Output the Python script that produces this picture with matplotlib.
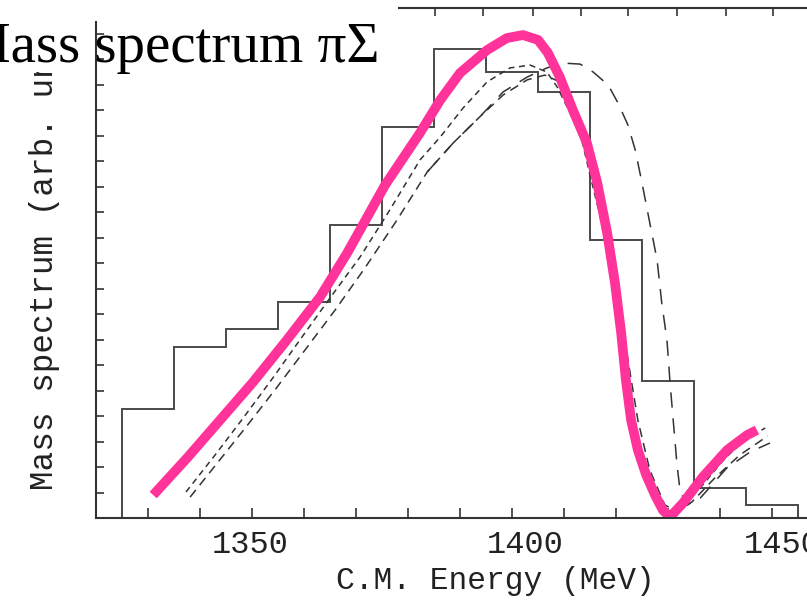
import matplotlib
matplotlib.use("Agg")
import matplotlib.pyplot as plt
from matplotlib.patches import Rectangle

# histogram (10 MeV bins)
bin_edges = [1325, 1335, 1345, 1355, 1365, 1375, 1385, 1395, 1405, 1415, 1425, 1435, 1445, 1455]
hist_counts = [4.27, 6.71, 7.41, 8.47, 11.49, 15.33, 18.39, 17.49, 16.71, 10.90, 5.37, 1.18, 0.51]

# thick pink fit
pink_e = [1331.0, 1337.5, 1343.9, 1350.2, 1356.7, 1363.1, 1368.3, 1375.6, 1382.3, 1386.2,
          1390.0, 1395.2, 1399.0, 1402.1, 1405.0, 1406.9, 1409.2, 1411.7, 1414.4, 1416.4,
          1418.3, 1419.8, 1421.0, 1421.9, 1422.9, 1424.2, 1425.8, 1427.5, 1429.0, 1430.4,
          1432.9, 1436.7, 1441.4, 1445.2, 1447.1]
pink_y = [0.90, 2.35, 3.85, 5.33, 6.98, 8.67, 10.39, 13.06, 15.10, 16.39,
          17.45, 18.35, 18.82, 18.94, 18.75, 18.24, 17.29, 16.00, 14.71, 13.14,
          11.18, 9.22, 7.25, 5.41, 3.84, 2.67, 1.69, 0.90, 0.31, 0.04,
          0.59, 1.61, 2.67, 3.25, 3.45]

# dashed model curves
d1_e = [1337.3, 1342.9, 1348.3, 1354.0, 1359.2, 1365.0, 1370.8, 1376.5, 1382.3, 1386.2,
        1390.6, 1395.2, 1399.6, 1403.5, 1406.7, 1408.7, 1410.6, 1413.1, 1415.0, 1416.9,
        1418.8, 1420.8, 1422.7, 1425.0, 1427.5, 1430.0, 1432.3, 1436.2, 1441.0, 1444.8,
        1448.7]
d1_y = [1.02, 2.47, 3.92, 5.49, 6.98, 8.63, 10.24, 12.08, 14.04, 14.94,
        16.08, 17.10, 17.65, 17.76, 17.49, 16.90, 16.12, 15.10, 13.45, 11.88,
        9.92, 7.37, 4.63, 2.47, 0.90, 0.12, 0.39, 1.18, 2.35, 3.06,
        3.53]

d2_e = [1338.1, 1343.5, 1348.7, 1354.4, 1360.2, 1366.0, 1371.7, 1377.9, 1383.7, 1388.7,
        1393.8, 1398.3, 1402.9, 1406.3, 1409.2, 1411.5, 1414.0, 1416.3, 1418.5, 1420.4,
        1422.3, 1424.2, 1426.5, 1429.4, 1431.9, 1434.6, 1439.0, 1443.8, 1449.2]
d2_y = [0.82, 2.20, 3.53, 5.02, 6.59, 8.16, 9.80, 11.69, 13.57, 14.71,
        15.73, 16.59, 17.18, 17.37, 17.10, 16.39, 15.22, 13.65, 11.49, 8.94,
        6.20, 3.84, 1.88, 0.51, 0.24, 0.63, 1.57, 2.47, 3.22]

d3_e = [1383.7, 1388.7, 1393.8, 1398.3, 1402.9, 1406.7, 1409.8, 1413.1, 1415.6, 1418.5,
        1420.4, 1422.3, 1423.7, 1425.0, 1426.5, 1427.9, 1428.8, 1429.8, 1430.4, 1431.0,
        1431.7, 1432.3, 1433.5, 1436.2, 1441.3, 1445.8, 1449.6]
d3_y = [13.57, 14.71, 15.73, 16.71, 17.29, 17.65, 17.84, 17.80, 17.49, 16.98,
        16.27, 15.41, 14.43, 13.14, 11.57, 10.12, 8.43, 6.98, 5.29, 3.84,
        2.16, 1.10, 0.51, 0.78, 1.96, 2.59, 2.94]

x_labels = [1350, 1400, 1450]
label_shift_px = [-2, 13, 10]   # scanned labels sit a little right of their ticks
top_ticks = [1385.2, 1394.4, 1404.0, 1413.3, 1422.3, 1431.7, 1441.2, 1450.2]

W, H = 807, 606
fig = plt.figure(figsize=(W / 100, H / 100), dpi=100)
ax = fig.add_axes([96 / W, 1 - 518 / H, (824 - 96) / W, 510 / H])
ax.set_xlim(1320, 1460)
ax.set_ylim(0, 20)

ink = "#333333"
ax.stairs(hist_counts, bin_edges, baseline=0, color="#4a4a4a", lw=1.4)
ax.plot(d1_e, d1_y, color=ink, lw=1.1, dashes=(4, 3))
ax.plot(d2_e, d2_y, color=ink, lw=1.1, dashes=(6, 4))
ax.plot(d3_e, d3_y, color=ink, lw=1.1, dashes=(10, 7))
ax.plot(pink_e, pink_y, color="#ff3399", lw=7, solid_capstyle="butt", solid_joinstyle="round")

mono = "Liberation Mono"
for s in ax.spines.values():
    s.set_color(ink)
    s.set_linewidth(1.5)
ax.set_xticks(x_labels)
ax.set_xticklabels([])
ax.set_xticks(range(1330, 1460, 10), minor=True)
ax.set_yticks(range(0, 21))
ax.set_yticklabels([])
ax.tick_params(axis="x", which="both", direction="in", length=7, width=1.2, color=ink)
ax.tick_params(axis="y", direction="in", length=6, width=1.2, color=ink)

# tick labels as annotations so each can sit where the scan has it
for v, dx in zip(x_labels, label_shift_px):
    ax.annotate(str(v), xy=(v, 0), xycoords=("data", "axes fraction"),
                xytext=(dx, -27), textcoords="offset pixels", ha="center", va="center",
                fontfamily=mono, fontsize=23, color="#222222", annotation_clip=False)

ax2 = ax.twiny()
ax2.set_xlim(ax.get_xlim())
ax2.set_xticks(top_ticks)
ax2.tick_params(direction="in", length=6, width=1.2, color=ink, labeltop=False)
for s in ax2.spines.values():
    s.set_visible(False)

fig.text(495 / W, 1 - 581 / H, "C.M. Energy (MeV)", fontfamily=mono, fontsize=22.5,
         color="#222222", ha="center", va="center")
fig.text(45 / W, 1 - 490 / H, "Mass spectrum (arb. units)", fontfamily=mono, fontsize=23.5,
         color="#222222", rotation=90, ha="center", va="bottom")

# white patch over the top-left corner, title on top of it
fig.patches.append(Rectangle((0, 1 - 21 / H), 398 / W, 21 / H, transform=fig.transFigure,
                             facecolor="white", edgecolor="none", zorder=5))
fig.patches.append(Rectangle((0, 1 - 72 / H), 88 / W, 72 / H, transform=fig.transFigure,
                             facecolor="white", edgecolor="none", zorder=5))
fig.text(380 / W, 1 - 62 / H, "Mass spectrum \u03c0\u03a3", fontfamily="Liberation Serif",
         fontsize=41, color="black", ha="right", va="baseline", zorder=6)

fig.savefig("out.png", dpi=100)
